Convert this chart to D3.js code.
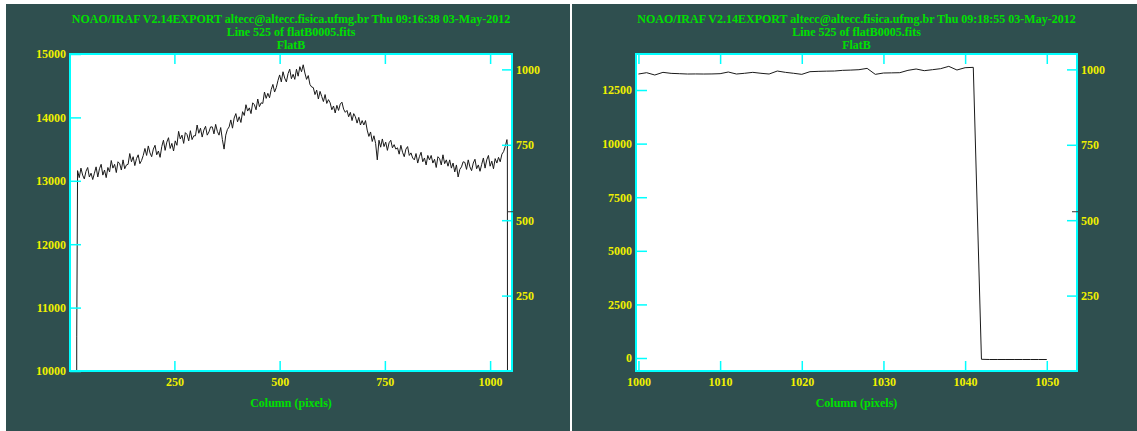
<!DOCTYPE html>
<html>
<head>
<meta charset="utf-8">
<script src="https://cdn.jsdelivr.net/npm/d3@7"></script>
<style>
  html, body { margin: 0; padding: 0; background: #ffffff; }
  svg { display: block; }
  text { font-family: "Liberation Serif", "DejaVu Serif", serif; font-weight: bold; }
</style>
</head>
<body>
<div id="chart"></div>
<script>
// titles
const leftTitle = ["NOAO/IRAF V2.14EXPORT altecc@altecc.fisica.ufmg.br Thu 09:16:38 03-May-2012",
    "Line 525 of flatB0005.fits", "FlatB"];
const rightTitle = ["NOAO/IRAF V2.14EXPORT altecc@altecc.fisica.ufmg.br Thu 09:18:55 03-May-2012",
    "Line 525 of flatB0005.fits", "FlatB"];
const xLabel = "Column (pixels)";

// left panel: full line, columns 1..1050
const leftLeadCols = [1, 17, 18];
const leftLeadVals = [0, 0, 10550];
const leftStartCol = 20, leftStep = 4;
const leftVals = [
    13160, 13050, 13200, 13090, 13030, 13150, 13210, 13060, 13120, 13020,
    13120, 13220, 13060, 13190, 13260, 13090, 13170, 13050, 13210, 13140,
    13320, 13200, 13260, 13130, 13300, 13270, 13170, 13330, 13190, 13250,
    13260, 13430, 13300, 13380, 13240, 13350, 13410, 13270, 13320, 13400,
    13510, 13400, 13550, 13440, 13380, 13500, 13560, 13410, 13470, 13370,
    13540, 13640, 13480, 13610, 13680, 13510, 13590, 13470, 13630, 13560,
    13780, 13660, 13720, 13590, 13760, 13730, 13630, 13790, 13650, 13710,
    13710, 13880, 13750, 13830, 13690, 13800, 13860, 13720, 13770, 13850,
    13850, 13740, 13890, 13780, 13720, 13840, 13650, 13500, 13720, 13810,
    13850, 13960, 13830, 13990, 14060, 13930, 14010, 13920, 14090, 14030,
    14200, 14100, 14150, 14060, 14230, 14200, 14120, 14290, 14170, 14230,
    14220, 14400, 14300, 14380, 14310, 14440, 14520, 14400, 14470, 14580,
    14670, 14560, 14720, 14620, 14560, 14690, 14760, 14610, 14680, 14600,
    14760, 14650, 14800, 14720, 14830, 14700, 14600, 14660, 14520, 14480,
    14470, 14360, 14430, 14290, 14410, 14330, 14250, 14360, 14220, 14280,
    14230, 14120, 14180, 14070, 14190, 14110, 14210, 14240, 14130, 14080,
    14110, 14010, 14080, 13950, 14060, 14010, 13910, 14000, 13880, 13950,
    13880, 13950, 13800, 13700, 13770, 13620, 13710, 13590, 13330, 13640,
    13530, 13660, 13540, 13610, 13480, 13600, 13640, 13520, 13570, 13500,
    13520, 13420, 13560, 13450, 13380, 13500, 13540, 13400, 13440, 13360,
    13330, 13430, 13280, 13380, 13450, 13300, 13360, 13250, 13400, 13330,
    13400, 13280, 13340, 13210, 13380, 13350, 13250, 13410, 13270, 13330,
    13230, 13330, 13200, 13280, 13140, 13250, 13060, 13180, 13220, 13300,
    13290, 13180, 13330, 13220, 13160, 13280, 13340, 13190, 13250, 13150,
    13260, 13360, 13200, 13330, 13400, 13230, 13310, 13190, 13350, 13280,
    13370, 13300, 13420, 13460, 13540, 13650
];
const leftTailCols = [1041, 1042, 1050];
const leftTailVals = [13560, -60, -60];

// right panel: columns 1000..1050
const rightStartCol = 1000;
const rightVals = [
    13246, 13308, 13200, 13324, 13277, 13262, 13246, 13250, 13246, 13250,
    13262, 13340, 13246, 13280, 13324, 13280, 13246, 13386, 13324, 13280,
    13231, 13355, 13370, 13380, 13386, 13417, 13430, 13448, 13510, 13231,
    13293, 13300, 13308, 13417, 13480, 13402, 13448, 13495, 13604, 13433,
    13541, 13557, -60, -70, -70, -70, -70, -70, -70, -70, -70
];

// axis ticks
const leftXTicks = [250, 500, 750, 1000];
const leftYTicks = [10000, 11000, 12000, 13000, 14000, 15000];
const rightXTicks = [1000, 1010, 1020, 1030, 1040, 1050];
const rightYTicks = [0, 2500, 5000, 7500, 10000, 12500];
const sideTicks = [250, 500, 750, 1000];
const sideMark = 528;

const leftData = leftLeadCols.map((c, i) => ({col: c, value: leftLeadVals[i]}))
    .concat(leftVals.map((v, i) => ({col: leftStartCol + i * leftStep, value: v})))
    .concat(leftTailCols.map((c, i) => ({col: c, value: leftTailVals[i]})));
const rightData = rightVals.map((v, i) => ({col: rightStartCol + i, value: v}));

const bg = "#2f4f4f", cyan = "#00ffff", yellow = "#f0f000", green = "#00e000";

const svg = d3.select("#chart").append("svg")
    .attr("width", 1137)
    .attr("height", 431);

svg.append("rect").attr("width", 1137).attr("height", 431).attr("fill", "#ffffff");

function drawPanel(p) {
    const g = svg.append("g");
    g.append("rect")
        .attr("x", p.bx).attr("y", 4)
        .attr("width", p.bw).attr("height", 427)
        .attr("fill", bg);

    const x = d3.scaleLinear().domain(p.xDomain).range([p.left, p.right]);
    const y = d3.scaleLinear().domain(p.yDomain).range([p.bottom, p.top]);
    const y2 = d3.scaleLinear().domain([0, 1051]).range([p.bottom, p.top]);
    const cx = (p.left + p.right) / 2;

    // titles
    p.title.forEach((t, i) => {
        g.append("text")
            .attr("x", cx).attr("y", 23 + i * 13)
            .attr("text-anchor", "middle")
            .attr("fill", green)
            .style("font-size", "12px")
            .text(t);
    });

    // plot area
    g.append("rect")
        .attr("x", p.left).attr("y", p.top)
        .attr("width", p.right - p.left).attr("height", p.bottom - p.top)
        .attr("fill", "#ffffff");

    const clipId = "clip-" + p.id;
    g.append("clipPath").attr("id", clipId)
        .append("rect")
        .attr("x", p.left).attr("y", p.top)
        .attr("width", p.right - p.left).attr("height", p.bottom - p.top);

    const line = d3.line()
        .x(d => x(d.col))
        .y(d => y(d.value));

    g.append("path")
        .datum(p.data)
        .attr("clip-path", `url(#${clipId})`)
        .attr("fill", "none")
        .attr("stroke", "#1a1a1a")
        .attr("stroke-width", 1)
        .attr("d", line);

    // axes
    const styleAxis = sel => {
        sel.select(".domain").remove();
        sel.selectAll(".tick line").attr("stroke", cyan).attr("stroke-width", 1.5);
        sel.selectAll(".tick text")
            .attr("fill", yellow)
            .style("font-size", "12px")
            .style("font-family", "Liberation Serif, serif")
            .style("font-weight", "bold");
    };

    g.append("g")
        .attr("transform", `translate(0,${p.bottom})`)
        .call(d3.axisBottom(x).tickValues(p.xTicks).tickSize(-10).tickPadding(6).tickFormat(d3.format("d")))
        .call(styleAxis);

    g.append("g")
        .attr("transform", `translate(0,${p.top})`)
        .call(d3.axisTop(x).tickValues(p.xTicks).tickSize(-10).tickFormat(""))
        .call(styleAxis);

    g.append("g")
        .attr("transform", `translate(${p.left},0)`)
        .call(d3.axisLeft(y).tickValues(p.yTicks).tickSize(-11).tickPadding(4).tickFormat(d3.format("d")))
        .call(styleAxis);

    g.append("g")
        .attr("transform", `translate(${p.right},0)`)
        .call(d3.axisRight(y2).tickValues(sideTicks).tickSize(-10).tickPadding(4).tickFormat(d3.format("d")))
        .call(styleAxis);

    // border
    g.append("rect")
        .attr("x", p.left).attr("y", p.top)
        .attr("width", p.right - p.left).attr("height", p.bottom - p.top)
        .attr("fill", "none")
        .attr("stroke", cyan)
        .attr("stroke-width", 2);

    // small marker on right edge
    g.append("line")
        .attr("x1", p.right - 5).attr("x2", p.right + 1)
        .attr("y1", y2(sideMark)).attr("y2", y2(sideMark))
        .attr("stroke", "#333").attr("stroke-width", 1);

    g.append("text")
        .attr("x", cx).attr("y", 407)
        .attr("text-anchor", "middle")
        .attr("fill", green)
        .style("font-size", "12px")
        .text(xLabel);
}

drawPanel({
    id: "left", bx: 6, bw: 564,
    left: 70, right: 512, top: 54, bottom: 371,
    xDomain: [2, 1052], yDomain: [10000, 15000],
    xTicks: leftXTicks, yTicks: leftYTicks,
    title: leftTitle, data: leftData
});

drawPanel({
    id: "right", bx: 572, bw: 565,
    left: 636, right: 1077, top: 54, bottom: 371,
    xDomain: [999.7, 1053.7], yDomain: [-606, 14180],
    xTicks: rightXTicks, yTicks: rightYTicks,
    title: rightTitle, data: rightData
});
</script>
</body>
</html>
